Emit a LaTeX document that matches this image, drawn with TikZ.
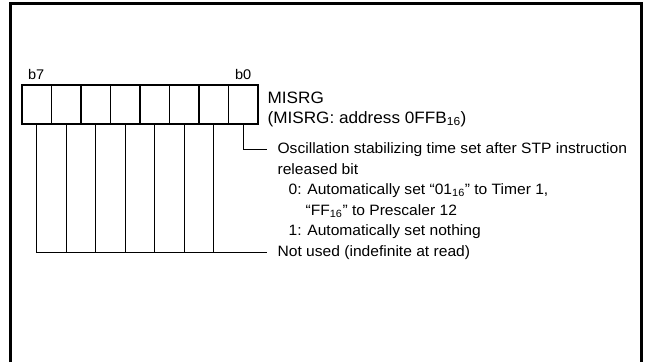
\documentclass[tikz,border=0pt]{standalone}
\usepackage{fontspec}
\setmainfont{Liberation Sans}[FakeStretch=1.04]
\usetikzlibrary{positioning}

\begin{document}
\begin{tikzpicture}[x=1pt, y=-1pt, line width=1.2pt,
    cell/.style={draw, rectangle, minimum width=29.5pt, minimum height=39pt, inner sep=0pt},
    txt/.style={inner sep=0pt, anchor=base west, font=\fontsize{15pt}{18pt}\selectfont},
    big/.style={txt, font=\fontsize{16.5pt}{20pt}\selectfont},
    lbl/.style={txt, font=\fontsize{14pt}{17pt}\selectfont}]

    \useasboundingbox (0,0) rectangle (646,362);

    % Frame
    \draw[line width=3pt] (10.5,362) -- (10.5,3.5) -- (641.5,3.5) -- (641.5,362);

    % Nodes
    \foreach \i in {0,...,7}
        \node (c\i) [cell] at ({243.25-\i*29.5},104.5) {};

    \node (b7) [lbl] at ([shift={(6,-5)}]c7.north west) {b7};
    \node (b0) [lbl] at ([shift={(6.5,-5)}]c0.north west) {b0};

    \node (reg) [big] at (267,103) {MISRG};
    \node (addr) [big, below=20pt of reg.base west, anchor=base west] {(MISRG: address 0FFB\textsubscript{16})};

    \node (osc) [txt] at (277,153.5) {Oscillation stabilizing time set after STP instruction};
    \node (rel) [txt, below=20.5pt of osc.base west, anchor=base west] {released bit};
    \node (zero) [txt, below=20.5pt of rel.base west, anchor=base west, xshift=11pt] {0: Automatically set “01\textsubscript{16}” to Timer 1,};
    \node (ff) [txt, below=20.5pt of zero.base west, anchor=base west, xshift=17pt] {“FF\textsubscript{16}” to Prescaler 12};
    \node (one) [txt, below=20.5pt of ff.base west, anchor=base west, xshift=-17pt] {1: Automatically set nothing};
    \node (nu) [txt, below=20.5pt of one.base west, anchor=base west, xshift=-11pt] {Not used (indefinite at read)};

    % Lines
    \foreach \i in {1,...,6}
        \draw (c\i.south) -- (c\i.south |- nu.west);
    \draw (c7.south) |- ([xshift=-10pt]nu.west);
    \draw (c0.south) |- ([xshift=-10pt]osc.west);

\end{tikzpicture}
\end{document}
